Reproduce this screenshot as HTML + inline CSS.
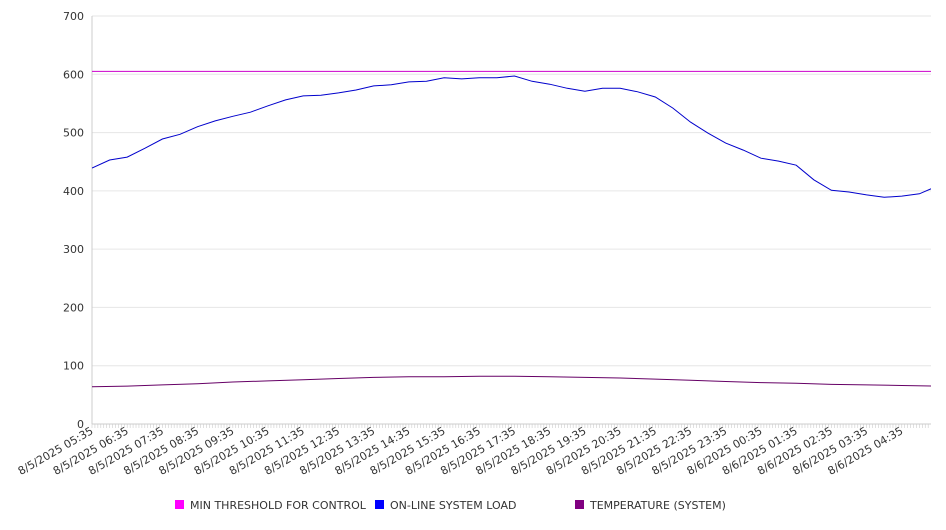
<!DOCTYPE html>
<html><head><meta charset="utf-8"><style>
body{margin:0;background:#fff;font-family:"DejaVu Sans","Liberation Sans",sans-serif;}
svg text{font-family:"DejaVu Sans","Liberation Sans",sans-serif;}
</style></head><body>
<svg id="chart" width="946" height="526" viewBox="0 0 946 526" xmlns="http://www.w3.org/2000/svg">
<defs><clipPath id="plotclip"><rect x="92" y="10" width="839" height="416"/></clipPath></defs>
<g id="grid"></g>
<g id="axes"></g>
<g id="series" clip-path="url(#plotclip)"></g>
<g id="legend">
 <rect x="175" y="500" width="9" height="9" fill="#ff00ff"/>
 <text x="190" y="509" font-size="11" fill="#333">MIN THRESHOLD FOR CONTROL</text>
 <rect x="375" y="500" width="9" height="9" fill="#0000ff"/>
 <text x="390" y="509" font-size="11" fill="#333">ON-LINE SYSTEM LOAD</text>
 <rect x="575" y="500" width="9" height="9" fill="#800080"/>
 <text x="590" y="509" font-size="11" fill="#333">TEMPERATURE (SYSTEM)</text>
</g>
</svg>
<script>
const xLabels=["8/5/2025 05:35","8/5/2025 06:35","8/5/2025 07:35","8/5/2025 08:35","8/5/2025 09:35","8/5/2025 10:35","8/5/2025 11:35","8/5/2025 12:35","8/5/2025 13:35","8/5/2025 14:35","8/5/2025 15:35","8/5/2025 16:35","8/5/2025 17:35","8/5/2025 18:35","8/5/2025 19:35","8/5/2025 20:35","8/5/2025 21:35","8/5/2025 22:35","8/5/2025 23:35","8/6/2025 00:35","8/6/2025 01:35","8/6/2025 02:35","8/6/2025 03:35","8/6/2025 04:35"];
const yTicks=[0,100,200,300,400,500,600,700];
const threshold=605;
// load sampled every 30 minutes from 05:35
const loadValues=[439,453,458,473,489,497,510,520,528,535,546,556,563,564,568,573,580,582,587,588,594,592,594,594,597,588,583,576,571,576,576,570,561,542,518,499,482,470,456,451,444,419,401,398,393,389,391,395,408];
// temperature sampled hourly from 05:35
const tempValues=[64,65,67,69,72,74,76,78,80,81,81,82,82,81,80,79,77,75,73,71,70,68,67,66,65];
const X0=92,X1=931,Y0=424,Y1=16,YMAX=700,HOURS=23.83;
const ns="http://www.w3.org/2000/svg";
function xt(h){return X0+(X1-X0)*h/HOURS;}
function ys(v){return Y0-(Y0-Y1)*v/YMAX;}
function mk(tag,attrs,parent){const e=document.createElementNS(ns,tag);for(const k in attrs)e.setAttribute(k,attrs[k]);parent.appendChild(e);return e;}
const grid=document.getElementById('grid'),axes=document.getElementById('axes'),series=document.getElementById('series');
yTicks.forEach(t=>{
 const l=mk('line',{x1:X0,x2:X1,y1:ys(t),y2:ys(t),stroke:'#e6e6e6','stroke-width':1},grid);
 
 
 const tx=mk('text',{x:84,y:ys(t)+4,'text-anchor':'end','font-size':11,fill:'#333'},axes);
 tx.textContent=t;
 
 
});
const ya=mk('line',{x1:X0,x2:X0,y1:Y1,y2:Y0,stroke:'#ccc'},axes);


const xa=mk('line',{x1:X0,x2:X1,y1:Y0,y2:Y0,stroke:'#ccc'},axes);


for(let i=0;i<=286;i++){const x=xt(i/12);if(x>X1)break;const t=mk('line',{x1:x,x2:x,y1:Y0,y2:Y0+4,stroke:'#ccc','stroke-width':0.6},axes);
 
 }
xLabels.forEach((s,i)=>{
 const x=xt(i);
 const tx=mk('text',{x:0,y:0,'text-anchor':'end','font-size':11,fill:'#333',transform:`translate(${x+2},${Y0+9}) rotate(-30)`},axes);
 tx.textContent=s;
 
 
});
const th=mk('line',{x1:X0,x2:X1,y1:ys(threshold),y2:ys(threshold),stroke:'#cc00cc','stroke-width':1},series);


function poly(vals,step,color,name){
 const pts=vals.map((v,i)=>xt(i*step).toFixed(1)+','+ys(v).toFixed(1)).join(' ');
 const p=mk('polyline',{points:pts,fill:'none',stroke:color,'stroke-width':1},series);
 
 
}
poly(loadValues,0.5,'#0000cc','load-line');
poly(tempValues,1,'#660066','temperature-line');
</script>
</body></html>
